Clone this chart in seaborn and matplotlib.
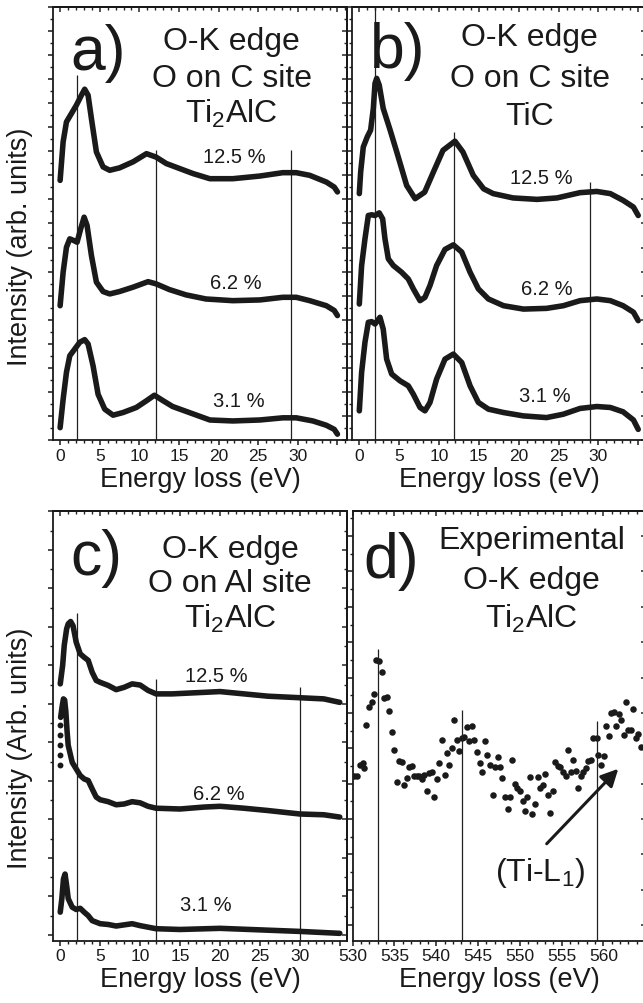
import numpy as np
import pandas as pd
import seaborn as sns
import matplotlib.pyplot as plt
from matplotlib.ticker import MultipleLocator, FixedLocator, FixedFormatter

sns.set_theme(style="ticks")
plt.rcParams["font.family"] = ["Liberation Sans", "DejaVu Sans"]
plt.rcParams["mathtext.fontset"] = "custom"
plt.rcParams["mathtext.rm"] = "Liberation Sans"
plt.rcParams["mathtext.it"] = "Liberation Sans:italic"
plt.rcParams["mathtext.bf"] = "Liberation Sans:bold"
plt.rcParams["axes.linewidth"] = 1.3
plt.rcParams["axes.edgecolor"] = "black"

# ---- data (arb. units) ----
# a) O on C site, Ti2AlC
a_x125 = [0, 0.38, 0.8, 1.43, 2.06, 2.69, 3.1, 3.53, 3.95, 4.58, 5.42, 6.26, 7.5, 9.2, 10.9, 12.1,
          13.4, 15.1, 16.8, 18.9, 21.8, 25.2, 28.1, 29.8, 31.5, 33.6, 34.6, 35.0]
a_y125 = [10.79, 12.39, 13.22, 13.57, 13.92, 14.33, 14.58, 14.33, 13.36, 11.97, 11.35, 11.21, 11.31,
          11.56, 11.9, 11.76, 11.49, 11.28, 11.07, 10.86, 10.86, 10.97, 11.11, 11.11, 11.0, 10.72, 10.51, 10.31]
a_x62 = [0, 0.38, 0.8, 1.22, 1.72, 2.14, 2.6, 3.03, 3.4, 3.95, 4.58, 5.42, 6.26, 7.5, 9.2, 11.1, 12.1,
         13.8, 15.9, 18.4, 21.8, 25.2, 28.1, 29.8, 31.5, 33.6, 34.6, 35.0]
a_y62 = [5.58, 6.97, 8.01, 8.36, 8.29, 8.22, 8.78, 9.26, 8.92, 7.67, 6.56, 6.17, 6.07, 6.17, 6.35, 6.58,
         6.49, 6.25, 6.03, 5.86, 5.79, 5.82, 5.93, 5.93, 5.79, 5.58, 5.38, 5.17]
a_x31 = [0, 0.38, 0.8, 1.22, 1.85, 2.48, 3.1, 3.53, 4.16, 4.79, 5.63, 6.68, 7.94, 9.62, 10.9, 11.9,
         13.0, 14.2, 16.3, 18.9, 21.8, 25.2, 28.1, 29.8, 31.9, 33.6, 34.6, 35.0]
a_y31 = [0.51, 1.69, 2.81, 3.5, 3.78, 4.06, 4.17, 3.99, 3.08, 1.9, 1.28, 1.03, 1.14, 1.35, 1.63, 1.86,
         1.63, 1.39, 1.14, 0.83, 0.79, 0.83, 0.92, 0.92, 0.79, 0.61, 0.44, 0.24]

# b) O on C site, TiC
b_x125 = [0, 0.17, 0.5, 1.0, 1.42, 1.76, 1.97, 2.18, 2.5, 3.0, 3.85, 4.7, 5.94, 7.0, 8.2, 9.3, 10.5,
          12.0, 13.0, 14.3, 15.6, 16.8, 19.3, 22.3, 24.8, 27.7, 29.8, 31.5, 33.1, 34.4, 35.0]
b_y125 = [10.24, 11.14, 12.18, 12.6, 12.88, 13.78, 14.82, 15.03, 14.75, 13.78, 12.9, 11.97, 10.58,
          10.03, 10.3, 11.14, 12.04, 12.42, 11.97, 11.0, 10.44, 10.24, 10.06, 10.0, 10.06, 10.28,
          10.33, 10.24, 9.96, 9.68, 9.33]
b_x62 = [0, 0.29, 0.71, 1.13, 1.55, 1.97, 2.5, 2.93, 3.22, 3.64, 4.27, 5.31, 6.15, 6.78, 7.62, 8.24,
         8.87, 9.7, 10.75, 11.8, 12.85, 13.9, 14.94, 16.2, 18.1, 20.6, 23.5, 25.6, 27.7, 29.8, 31.5,
         33.1, 34.4, 35.0]
b_y62 = [5.65, 7.25, 8.36, 9.33, 9.36, 9.33, 9.44, 9.19, 8.36, 7.53, 7.25, 6.97, 6.69, 6.28, 5.79,
         5.93, 6.42, 7.25, 7.92, 8.11, 7.81, 6.97, 6.28, 5.86, 5.58, 5.44, 5.47, 5.58, 5.79, 5.86,
         5.79, 5.58, 5.31, 4.96]
b_x31 = [0, 0.29, 0.71, 1.13, 1.55, 1.97, 2.59, 3.0, 3.43, 4.06, 5.1, 6.15, 6.78, 7.62, 8.24, 8.87,
         9.7, 10.75, 11.8, 12.85, 13.9, 14.94, 16.2, 18.1, 20.6, 23.5, 25.6, 27.7, 29.8, 31.5, 33.1,
         34.4, 35.0]
b_y31 = [1.21, 2.81, 4.06, 4.89, 4.92, 4.82, 5.1, 4.61, 3.36, 2.74, 2.46, 2.25, 1.9, 1.35, 1.21, 1.56,
         2.53, 3.36, 3.57, 3.22, 2.25, 1.56, 1.28, 1.14, 1.0, 0.93, 1.07, 1.31, 1.39, 1.35, 1.17,
         0.83, 0.44]

# c) O on Al site, Ti2AlC
c_x125 = [0, 0.3, 0.5, 0.8, 1.0, 1.3, 1.6, 2.0, 2.5, 3.0, 3.5, 4.0, 4.5, 5.0, 6, 7, 8, 9, 10, 11, 12,
          14, 17, 20, 23, 26, 30, 33, 35]
c_y125 = [6.52, 7.0, 7.52, 7.95, 8.08, 8.14, 8.03, 7.6, 7.3, 7.21, 7.13, 6.82, 6.61, 6.56, 6.48, 6.37,
          6.43, 6.52, 6.49, 6.35, 6.26, 6.26, 6.29, 6.32, 6.26, 6.2, 6.16, 6.13, 6.04]
c_onset62 = [4.40, 4.66, 4.92, 5.18, 5.44]
c_x62 = [0.05, 0.25, 0.4, 0.55, 0.7, 0.85, 1.0, 1.5, 2.0, 2.5, 3.0, 3.5, 4.0, 4.5, 5.0, 6, 7, 8, 9,
         10, 11, 12, 15, 18, 20, 23, 26, 30, 33, 35]
c_y62 = [5.65, 5.95, 6.13, 6.1, 5.8, 5.3, 4.92, 4.48, 4.31, 4.14, 4.05, 4.01, 3.79, 3.58, 3.51, 3.46,
         3.38, 3.40, 3.46, 3.43, 3.34, 3.29, 3.27, 3.32, 3.34, 3.29, 3.23, 3.14, 3.12, 3.06]
c_x31 = [0, 0.2, 0.4, 0.6, 0.8, 1.0, 1.5, 2.0, 2.5, 3.0, 3.5, 4.0, 5, 6, 7, 8, 9, 10, 12, 15, 20, 25,
         30, 35]
c_y31 = [0.59, 0.94, 1.45, 1.58, 1.28, 0.94, 0.72, 0.66, 0.69, 0.59, 0.5, 0.37, 0.29, 0.27, 0.23,
         0.26, 0.29, 0.24, 0.16, 0.14, 0.17, 0.13, 0.09, 0.04]

# d) experimental O-K edge
d_energy = [530.16, 530.51, 530.87, 531.20, 531.35, 531.59, 531.95, 532.27, 532.55, 532.79, 533.18,
            533.47, 533.75, 534.07, 534.34, 534.67, 534.94, 535.27, 535.58, 535.86, 536.14, 536.46,
            536.77, 537.06, 537.37, 537.66, 537.94, 538.26, 538.53, 538.86, 539.13, 539.46, 539.77,
            540.05, 540.37, 540.69, 541.01, 541.29, 541.56, 541.88, 542.16, 542.45, 542.76, 543.05,
            543.36, 543.64, 543.96, 544.24, 544.55, 544.88, 545.24, 545.51, 545.80, 546.11, 546.43,
            546.76, 547.03, 547.36, 547.67, 547.91, 548.23, 548.55, 548.83, 549.10, 549.43, 549.70,
            550.02, 550.35, 550.62, 550.90, 551.22, 551.50, 551.82, 552.14, 552.42, 552.74, 553.02,
            553.34, 553.65, 553.94, 554.21, 554.54, 554.85, 555.17, 555.49, 555.77, 556.09, 556.40,
            556.69, 557.00, 557.29, 557.56, 557.89, 558.20, 558.52, 558.80, 559.20, 559.40, 559.72,
            560.04, 560.35, 560.68, 560.92, 561.28, 561.55, 561.87, 562.11, 562.44, 562.75, 562.99,
            563.31, 563.59, 563.91, 564.18, 564.47]
d_counts = [4.23, 4.23, 4.53, 4.59, 4.44, 5.66, 6.18, 6.31, 6.53, 7.51, 7.48, 7.17, 6.42, 6.45, 6.06,
            5.47, 4.94, 4.05, 4.64, 4.61, 3.97, 4.16, 4.47, 4.51, 4.21, 4.21, 4.21, 4.14, 4.25, 3.78,
            4.31, 4.34, 3.62, 4.14, 4.59, 5.24, 4.25, 4.86, 4.53, 5.01, 5.81, 5.22, 4.91, 5.30, 5.32,
            5.61, 5.21, 5.64, 5.22, 4.89, 4.59, 4.34, 5.21, 4.82, 4.53, 3.69, 4.47, 4.75,
            4.47, 4.16, 3.62, 3.29, 3.62, 4.66, 4.00, 3.88, 3.78, 3.51, 3.24, 3.62, 4.20, 3.15, 3.43,
            4.20, 3.88, 3.97, 4.28, 3.67, 3.18, 3.78, 4.61, 4.49, 4.47, 4.33, 4.23, 4.94, 4.34, 4.68,
            4.37, 3.88, 4.23, 4.33, 4.44, 4.63, 4.66, 5.29, 5.30, 4.80, 4.53, 4.77, 5.64, 5.36, 6.00,
            6.02, 5.64, 5.97, 5.81, 5.38, 6.31, 5.53, 5.53, 6.12, 5.29, 5.41, 5.03]

conc_labels = ["12.5 %", "6.2 %", "3.1 %"]
a_label_pos = [(22.0, 11.78), (22.2, 6.56), (22.6, 1.63)]
b_label_pos = [(22.9, 10.93), (23.5, 6.31), (23.3, 1.83)]
c_label_pos = [(19.6, 6.74), (19.8, 3.66), (18.2, 0.78)]

# reference lines: (position, top of line)
a_vlines = [(2.1, 15.17), (12.1, 12.04), (29.2, 12.04)]
b_vlines = [(2.0, 18.0), (11.9, 12.8), (29.0, 10.72)]
c_vlines = [(2.1, 8.35), (12.0, 6.65), (30.0, 6.43)]
d_vlines = [(533.07, 7.81), (543.1, 6.07), (559.2, 5.76)]

fig = plt.figure(figsize=(6.43, 10.04), dpi=100)
ax_a = fig.add_axes([0.0824, 0.5608, 0.4572, 0.4313])
ax_b = fig.add_axes([0.5474, 0.5608, 0.4572, 0.4313])
ax_c = fig.add_axes([0.0824, 0.0621, 0.4572, 0.4283])
ax_d = fig.add_axes([0.5485, 0.0621, 0.4561, 0.4283])


def style_axes(ax, xlim, ylim, xmajor, xlabels):
    ax.set_xlim(*xlim)
    ax.set_ylim(*ylim)
    ax.xaxis.set_major_locator(FixedLocator(xmajor))
    ax.xaxis.set_major_formatter(FixedFormatter(xlabels))
    ax.xaxis.set_minor_locator(MultipleLocator(1))
    ax.yaxis.set_major_locator(MultipleLocator(1))
    ax.yaxis.set_minor_locator(MultipleLocator(0.5))
    ax.set_yticklabels([])
    ax.tick_params(which="major", direction="out", length=3.6, width=1.1, pad=2,
                   labelsize=12.5, color="k", labelcolor="k")
    ax.tick_params(which="minor", direction="out", length=2.2, width=1.0, color="k")
    for s in ax.spines.values():
        s.set_color("k")
    top = ax.secondary_xaxis("top")
    top.xaxis.set_major_locator(FixedLocator(xmajor))
    top.xaxis.set_minor_locator(MultipleLocator(1))
    top.tick_params(which="major", direction="in", length=3.6, width=1.1, labeltop=False)
    top.tick_params(which="minor", direction="in", length=2.2, width=1.0)
    right = ax.secondary_yaxis("right")
    right.yaxis.set_major_locator(MultipleLocator(1))
    right.yaxis.set_minor_locator(MultipleLocator(0.5))
    right.tick_params(which="major", direction="in", length=3.6, width=1.1, labelright=False)
    right.tick_params(which="minor", direction="in", length=2.2, width=1.0)
    ax.set_xlabel("Energy loss (eV)", fontsize=19.5, color="k")
    ax.xaxis.set_label_coords(0.5, -0.06)
    ax.set_ylabel("")


def draw_curves(ax, curves):
    for xs, ys in curves:
        df = pd.DataFrame({"energy": xs, "intensity": ys})
        sns.lineplot(data=df, x="energy", y="intensity", ax=ax, color="k", linewidth=4.0,
                     sort=False, estimator=None, solid_capstyle="round", solid_joinstyle="round")


def draw_vlines(ax, lines, ybottom):
    for xv, ytop in lines:
        ax.vlines(xv, ybottom, ytop, color="#202020", linewidth=0.9)


def titles(ax, letter, letter_pos, lines, xc, ys):
    ax.text(letter_pos[0], letter_pos[1], letter, transform=ax.transAxes, fontsize=45,
            ha="left", va="baseline", color="k")
    for txt, yy in zip(lines, ys):
        ax.text(xc, yy, txt, transform=ax.transAxes, fontsize=23, ha="center",
                va="baseline", color="k")


mat = r"Ti$_\mathrm{2}$AlC"

# panel a
draw_vlines(ax_a, a_vlines, 0)
draw_curves(ax_a, [(a_x125, a_y125), (a_x62, a_y62), (a_x31, a_y31)])
for lab, (lx, ly) in zip(conc_labels, a_label_pos):
    ax_a.text(lx, ly, lab, fontsize=14.5, ha="center", va="center", color="k")
style_axes(ax_a, (-0.9, 36.2), (0, 18), list(range(0, 36, 5)),
           ["0", "5", "10", "15", "20", "25", "30", ""])
ax_a.set_ylabel("Intensity (arb. units)", fontsize=19.5, color="k")
ax_a.yaxis.set_label_coords(-0.068, 0.448)
titles(ax_a, "a)", (0.058, 0.857), ["O-K edge", "O on C site", mat], 0.608,
       [0.903, 0.818, 0.734])

# panel b
draw_vlines(ax_b, b_vlines, 0)
draw_curves(ax_b, [(b_x125, b_y125), (b_x62, b_y62), (b_x31, b_y31)])
for lab, (lx, ly) in zip(conc_labels, b_label_pos):
    ax_b.text(lx, ly, lab, fontsize=14.5, ha="center", va="center", color="k")
style_axes(ax_b, (-0.92, 35.97), (0, 18), list(range(0, 36, 5)),
           ["0", "5", "10", "15", "20", "25", "30", ""])
titles(ax_b, "b)", (0.062, 0.861), ["O-K edge", "O on C site", "TiC"], 0.605,
       [0.911, 0.818, 0.730])

# panel c
draw_vlines(ax_c, c_vlines, -0.15)
draw_curves(ax_c, [(c_x125, c_y125), (c_x62, c_y62), (c_x31, c_y31)])
sns.scatterplot(x=[0.0] * len(c_onset62), y=c_onset62, ax=ax_c, color="k", s=18, linewidth=0)
for lab, (lx, ly) in zip(conc_labels, c_label_pos):
    ax_c.text(lx, ly, lab, fontsize=14.5, ha="center", va="center", color="k")
style_axes(ax_c, (-0.91, 35.9), (-0.15, 11.02), list(range(0, 36, 5)),
           ["0", "5", "10", "15", "20", "25", "30", ""])
ax_c.set_ylabel("Intensity (Arb. units)", fontsize=19.5, color="k")
ax_c.yaxis.set_label_coords(-0.068, 0.45)
titles(ax_c, "c)", (0.058, 0.853), ["O-K edge", "O on Al site", mat], 0.602,
       [0.892, 0.814, 0.729])

# panel d
draw_vlines(ax_d, d_vlines, -0.44)
sns.scatterplot(x=d_energy, y=d_counts, ax=ax_d, color="k", s=22, linewidth=0)
style_axes(ax_d, (530, 565.1), (-0.44, 11.72), list(range(530, 561, 5)),
           [str(v) for v in range(530, 561, 5)])
ax_d.annotate("", xy=(561.79, 4.42), xytext=(553.22, 2.30),
              arrowprops=dict(arrowstyle="-|>", lw=2.2, color="k", mutation_scale=26,
                              shrinkA=0, shrinkB=0))
ax_d.text(552.4, 1.51, r"(Ti-L$_\mathrm{1}$)", fontsize=23, ha="center", va="center", color="k")
titles(ax_d, "d)", (0.036, 0.846), ["Experimental", "O-K edge", mat], 0.610,
       [0.912, 0.819, 0.730])

fig.savefig("out.png", dpi=100)
